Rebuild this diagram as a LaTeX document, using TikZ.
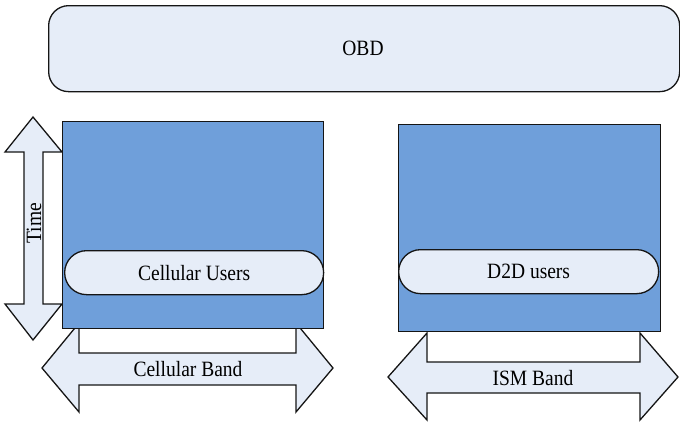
\documentclass[tikz,border=0pt]{standalone}
\usepackage{fontspec}
\setmainfont{Liberation Serif}
\usepackage{graphicx}
\definecolor{band}{HTML}{6F9FDA}
\definecolor{pale}{HTML}{E6EDF8}
\definecolor{edge}{HTML}{151515}
\newcommand{\lbl}[1]{\scalebox{1}[1.12]{\fontsize{19.5}{22}\selectfont #1}}
\tikzset{
  outline/.style={draw=edge, line width=1.3pt, line join=miter},
  slab/.style={outline, fill=band, inner sep=0pt, anchor=north west},
  pill/.style={outline, fill=pale, rounded corners=22pt, inner sep=0pt, anchor=north west,
    minimum height=44pt},
  arrowbody/.style={outline, fill=pale},
  caption/.style={inner sep=0pt, text=black}
}
\begin{document}
\begin{tikzpicture}[x=1pt, y=-1pt]
\useasboundingbox (0,0) rectangle (680,424);

% top bar
\node[outline, fill=pale, rounded corners=20pt, anchor=north west, inner sep=0pt,
  minimum width=631pt, minimum height=86pt] (obd) at (48,5) {};
\node[caption] (obdtxt) at (363,48) {\lbl{OBD}};

% time axis (vertical double arrow)
\draw[arrowbody] (33,117) -- (62,152) -- (43,152) -- (43,304) -- (62,304) -- (33,340)
  -- (5,304) -- (24,304) -- (24,152) -- (5,152) -- cycle;
\node[caption, rotate=90] (timetxt) at (34,223) {\lbl{Time}};

% frequency axes (horizontal double arrows)
\draw[arrowbody] (42,368) -- (79,323) -- (79,353) -- (296,353) -- (296,323) -- (333,368)
  -- (296,412) -- (296,385) -- (79,385) -- (79,412) -- cycle;
\node[caption] (celltxt) at (188,369) {\lbl{Cellular Band}};

\draw[arrowbody] (388,377) -- (427,333) -- (427,362) -- (640,362) -- (640,333) -- (678,377)
  -- (640,420) -- (640,393) -- (427,393) -- (427,420) -- cycle;
\node[caption] (ismtxt) at (533,378) {\lbl{ISM Band}};

% resource blocks
\node[slab, minimum width=261pt, minimum height=207pt] (cell) at (62,121) {};
\node[slab, minimum width=262pt, minimum height=207pt] (d2d) at (398,124) {};

% user groups
\node[pill, minimum width=259pt] (cellu) at (64,250) {};
\node[caption] at (cellu.center) {\lbl{Cellular Users}};
\node[pill, minimum width=260pt] (d2du) at (398,249) {};
\node[caption] at (d2du.center) {\lbl{D2D users}};
\end{tikzpicture}
\end{document}
